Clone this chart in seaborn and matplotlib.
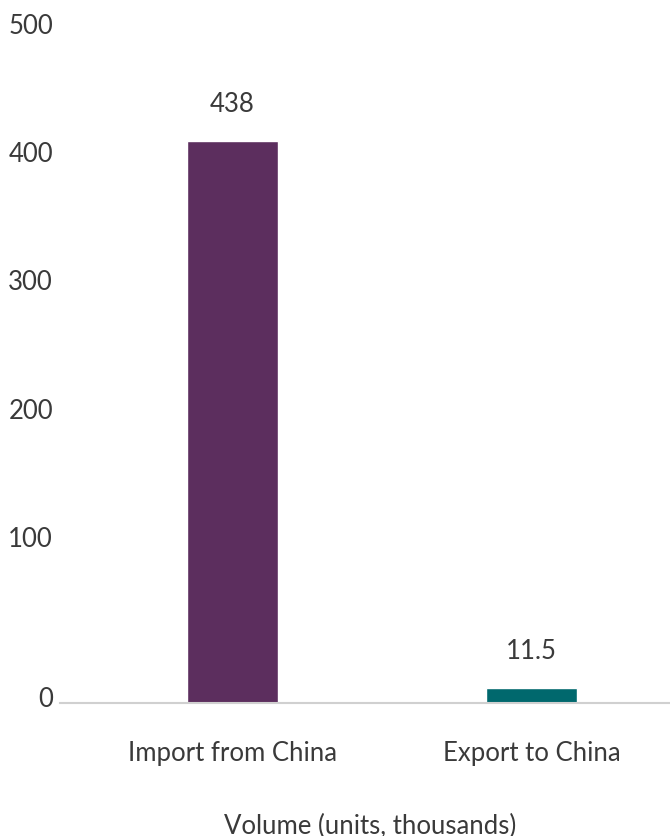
import matplotlib
matplotlib.use("Agg")
import matplotlib.pyplot as plt
import matplotlib.transforms as mtransforms
import seaborn as sns
import pandas as pd

categories = ["Import from China", "Export to China"]
values = [438, 11.5]
value_labels = ["438", "11.5"]
colors = ["#5C2E5E", "#00686D"]
yticks = [0, 100, 200, 300, 400, 500]
ytick_labels = ["0", "100", "200", "300", "400", "500"]
x_title = "Volume (units, thousands)"

sns.set_theme(style="white")
plt.rcParams["font.family"] = ["Lato", "DejaVu Sans"]
text_color = "#3A3A3A"
fs = 18.5

df = pd.DataFrame({"category": categories, "value": values})

fig = plt.figure(figsize=(6.7, 8.37), dpi=100)
ax = fig.add_axes([60 / 670, 1 - 704 / 837, 644 / 670, 641.5 / 837])

sns.barplot(data=df, x="category", y="value", hue="category",
            palette=colors, width=0.304, legend=False, ax=ax, saturation=1)

ax.set_ylim(0, 500)
ax.set_xlim(-0.577, 1.577)
ax.set_yticks(yticks)
ax.set_yticklabels(ytick_labels)
ax.set_xlabel("")
ax.set_ylabel("")
for s in ["top", "right", "left"]:
    ax.spines[s].set_visible(False)
ax.spines["bottom"].set_color("#D0D0D0")
ax.spines["bottom"].set_linewidth(1.5)
ax.tick_params(axis="both", length=0, colors=text_color, labelsize=fs)
ax.tick_params(axis="y", pad=5)
ax.tick_params(axis="x", pad=27)

# shift y tick labels as in the reference
for t, lab in zip(yticks, ax.get_yticklabels()):
    dy = 5 / 72 if t == 0 else 28 / 72
    lab.set_transform(lab.get_transform() + mtransforms.ScaledTranslation(0, dy, fig.dpi_scale_trans))

for i, (v, s) in enumerate(zip(values, value_labels)):
    ax.annotate(s, xy=(i, v), xytext=(0, 18), textcoords="offset points",
                ha="center", va="bottom", fontsize=fs, color=text_color)

fig.text(370 / 670, 1 - 826 / 837, x_title, ha="center", va="center",
         fontsize=fs, color=text_color)

fig.savefig("out.png", dpi=100, facecolor="white")
